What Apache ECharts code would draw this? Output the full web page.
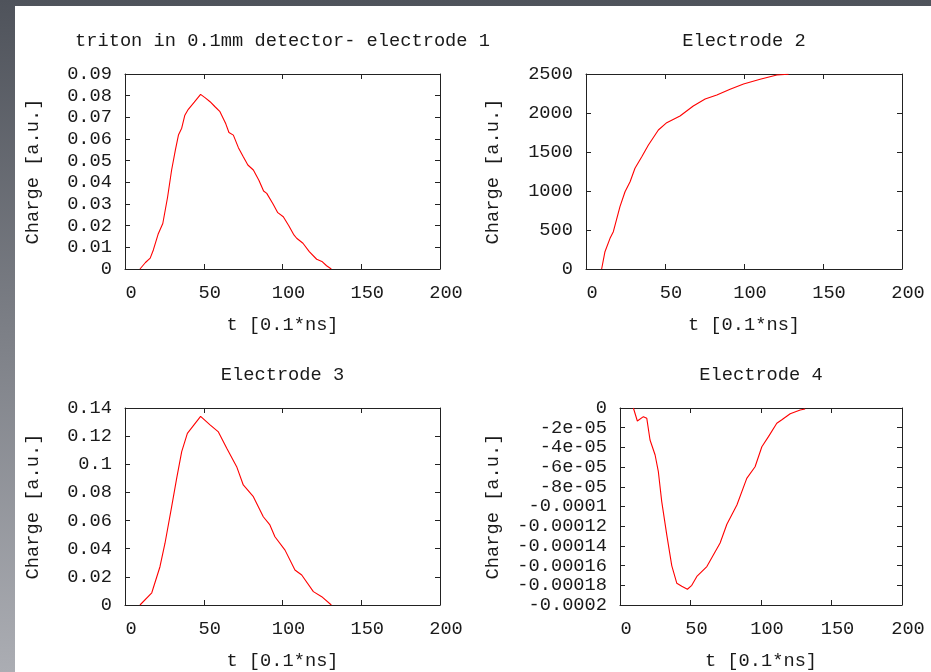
<!DOCTYPE html>
<html><head><meta charset="utf-8">
<script src="https://cdn.jsdelivr.net/npm/echarts@6/dist/echarts.min.js"></script>
<style>
html,body{margin:0;padding:0;width:931px;height:672px;overflow:hidden;background:linear-gradient(to bottom,#4f535b 0%,#7d8087 50%,#abadb3 100%);}
#chart{position:absolute;left:15px;top:6px;width:916px;height:666px;background:#fff;}
</style></head><body><div id="chart"></div>
<script>
// ---- data ----
const titles = ['triton in 0.1mm detector- electrode 1', 'Electrode 2', 'Electrode 3', 'Electrode 4'];
const xName = 't [0.1*ns]';
const yName = 'Charge [a.u.]';
const xTicks = [0, 50, 100, 150, 200];

const t1 = [9.5,13,16,18,21,24,27,29.6,32,34,36,38,40.2,44,48,51,54,57,60.3,64,66,68.8,72,75.1,78,81.5,85,88,90,94,97,100.5,104,107,109,113,117,121.7,125,128,131];
const v1 = [0,0.003,0.005,0.0088,0.016,0.021,0.033,0.0457,0.055,0.062,0.065,0.071,0.0737,0.077,0.0806,0.079,0.0772,0.075,0.0726,0.067,0.063,0.0618,0.056,0.0518,0.048,0.0457,0.041,0.036,0.0349,0.030,0.026,0.0241,0.020,0.016,0.0142,0.0119,0.008,0.0045,0.0035,0.0015,0];

const t2 = [9.9,12,15.2,17.3,21.5,24.7,27.9,31,35.3,39.5,45.8,51.1,59.5,67.9,75.4,82.8,91.2,99.7,110.2,120.8,128.2];
const v2 = [0,222,393,478,799,991,1119,1291,1440,1590,1782,1876,1962,2090,2179,2231,2304,2372,2432,2487,2496];

const t3 = [9.5,17,22.2,25.4,29.6,32.8,36,39.6,48,54,59.3,64.6,70.9,75.1,81.5,87.8,92,95.2,101.6,107.9,112.2,119.6,124.9,131];
const v3 = [0,0.0087,0.0272,0.0439,0.0698,0.09,0.109,0.122,0.134,0.128,0.123,0.1114,0.0983,0.0853,0.077,0.0627,0.0569,0.0485,0.039,0.0249,0.0213,0.0095,0.0059,0];

const t4 = [9.5,12.3,16.6,19,21.3,24.9,27.2,29.6,33.2,36.7,40.3,43.8,47.8,50.9,54.5,61.6,66.3,71,75.8,82.9,89.9,95.8,100.6,105.3,111.2,114.8,120.7,127.8,131.3];
const v4 = [0,-0.0000132,-0.0000088,-0.0000105,-0.0000325,-0.0000477,-0.0000647,-0.000095,-0.000129,-0.00016,-0.000178,-0.000181,-0.000184,-0.00018,-0.000171,-0.000161,-0.000149,-0.000137,-0.000118,-0.0000985,-0.0000714,-0.0000596,-0.0000393,-0.0000291,-0.0000155,-0.0000119,-0.0000058,-0.000002,-0.000001];

const y4TickLabels = ['-0.0002','-0.00018','-0.00016','-0.00014','-0.00012','-0.0001','-8e-05','-6e-05','-4e-05','-2e-05','0'];

// ---- layout ----
const FONT = 'Liberation Mono';
const FS = 18.7;
const TXT = '#1a1a1a';
const AX = '#222';
const grids = [
  {left:110, top:68, width:315, height:195},
  {left:571, top:68, width:316, height:195},
  {left:110, top:402, width:315, height:197},
  {left:605, top:402, width:282, height:197}
];
const yCfg = [
  {min:0, max:0.09, interval:0.01, gap:82},
  {min:0, max:2500, interval:500, gap:83},
  {min:0, max:0.14, interval:0.02, gap:82},
  {min:-0.0002, max:0, interval:0.00002, gap:117,
   fmt: v => y4TickLabels[Math.round((v + 0.0002) / 0.00002)]}
];
const series = [[t1,v1],[t2,v2],[t3,v3],[t4,v4]];

const xAxis = [], yAxis = [], sers = [], title = [];
grids.forEach((g, i) => {
  const lineStyle = {color: AX, width: 1};
  const line = {show:true, onZero:false, lineStyle};
  const tick = {show:true, inside:true, length:5, lineStyle};
  xAxis.push({
    type:'value', gridIndex:i, position:'bottom', min:xTicks[0], max:xTicks[xTicks.length-1], interval:50,
    name:xName, nameLocation:'middle', nameGap:47,
    nameTextStyle:{fontFamily:FONT, fontSize:FS, color:TXT},
    axisLine:line, axisTick:tick,
    axisLabel:{fontFamily:FONT, fontSize:FS, color:TXT, margin:15, padding:[0,0,0,12], formatter: v => String(v)},
    splitLine:{show:false}
  });
  xAxis.push({
    type:'value', gridIndex:i, position:'top', min:xTicks[0], max:xTicks[xTicks.length-1], interval:50,
    axisLine:line, axisTick:tick,
    axisLabel:{show:false}, splitLine:{show:false}
  });
  const c = yCfg[i];
  yAxis.push({
    type:'value', gridIndex:i, position:'left', min:c.min, max:c.max, interval:c.interval,
    name:yName, nameLocation:'middle', nameGap:c.gap, nameRotate:90,
    nameTextStyle:{fontFamily:FONT, fontSize:FS, color:TXT},
    axisLine:line, axisTick:tick,
    axisLabel:{fontFamily:FONT, fontSize:FS, color:TXT, margin:13, formatter: c.fmt ? c.fmt : (v => String(v))},
    splitLine:{show:false}
  });
  yAxis.push({
    type:'value', gridIndex:i, position:'right', min:c.min, max:c.max, interval:c.interval,
    axisLine:line, axisTick:tick,
    axisLabel:{show:false}, splitLine:{show:false}
  });
  const [ts, vs] = series[i];
  sers.push({
    type:'line', xAxisIndex:2*i, yAxisIndex:2*i, showSymbol:false, symbol:'none',
    data: ts.map((t, k) => [t, vs[k]]),
    lineStyle:{color:'#ff0000', width:1.1}, animation:false
  });
  title.push({
    text: titles[i], left: g.left + g.width/2 - 5, top: g.top - 47, textAlign:'center',
    textStyle:{fontFamily:FONT, fontSize:FS, fontWeight:'normal', color:TXT}
  });
});

const chart = echarts.init(document.getElementById('chart'));
chart.setOption({
  animation:false,
  title, grid: grids.map(g => Object.assign({containLabel:false}, g)),
  xAxis, yAxis, series: sers
});
</script></body></html>
